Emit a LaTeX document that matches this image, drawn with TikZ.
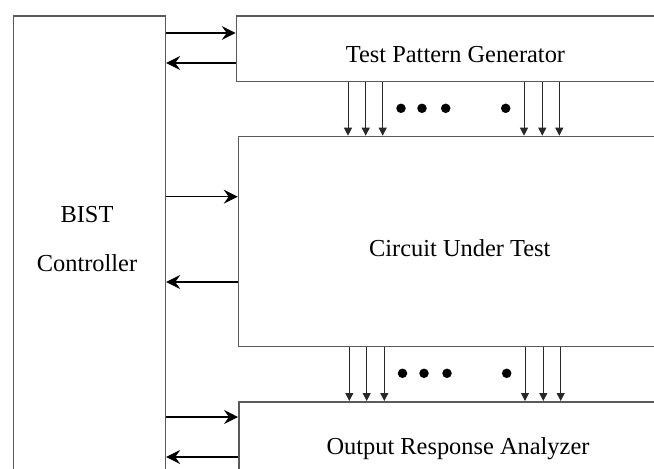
\documentclass[tikz,border=0pt]{standalone}
\usepackage{fontspec}
\setmainfont{Liberation Serif}
\usetikzlibrary{arrows.meta}

\definecolor{blockline}{RGB}{90,90,90}
\definecolor{busline}{RGB}{40,40,40}

\tikzset{
  block/.style={draw=blockline, line width=1.5pt, rectangle, inner sep=0pt, anchor=north west},
  lbl/.style={anchor=base, inner sep=0pt, font=\fontsize{24.4pt}{29pt}\selectfont},
  ctrl/.style={draw=black, line width=1.1pt, -{Stealth[length=14pt, width=14pt, inset=5pt]}},
  bus/.style={draw=busline, line width=1pt, -{Triangle[length=8pt, width=8pt]}},
  busdot/.style={fill=black, circle, inner sep=0pt, minimum size=9.5pt},
}

\begin{document}
\begin{tikzpicture}[x=1pt, y=-1pt]
  \useasboundingbox (0,0) rectangle (654,469);
  \clip (0,0) rectangle (654,469);

  % blocks (the wide ones run past the right edge, the controller past the bottom)
  \node[block, minimum width=152pt, minimum height=520pt] (bist) at (12.7,15) {};
  \node[block, minimum width=440pt, minimum height=65.7pt] (tpg) at (235.7,15) {};
  \node[block, minimum width=444pt, minimum height=210pt] (cut) at (237.7,135.7) {};
  \node[block, minimum width=440pt, minimum height=120pt] (ora) at (238,401) {};

  % block titles
  \node[lbl] (bistA) at (87,222.3) {BIST};
  \node[lbl] (bistB) at (87,271.7) {Controller};
  \node[lbl] (tpgT) at (455.5,62) {Test Pattern Generator};
  \node[lbl] (cutT) at (459.8,256) {Circuit Under Test};
  \node[lbl] (oraT) at (458,454.3) {Output Response Analyzer};

  % controller handshakes
  \draw[ctrl] (bist.east |- 0,33)    -- (tpg.west |- 0,33);
  \draw[ctrl] (tpg.west |- 0,63)     -- (bist.east |- 0,63);
  \draw[ctrl] (bist.east |- 0,196.7) -- (cut.west |- 0,196.7);
  \draw[ctrl] (cut.west |- 0,282)    -- (bist.east |- 0,282);
  \draw[ctrl] (bist.east |- 0,417)   -- (ora.west |- 0,417);
  \draw[ctrl] (ora.west |- 0,457)    -- (bist.east |- 0,457);

  % test pattern bus
  \foreach \x in {348,365.7,382.7,524,542.3,559.3}
    \draw[bus] (tpg.south -| \x,0) -- (cut.north -| \x,0);
  \foreach \x [count=\i] in {401,422,445.7,505.7}
    \node[busdot] (tdot\i) at (\x,108.3) {};

  % response bus
  \foreach \x in {349.3,366.7,384.3,525,543.3,560.7}
    \draw[bus] (cut.south -| \x,0) -- (ora.north -| \x,0);
  \foreach \x [count=\i] in {402.5,424,447,506.7}
    \node[busdot] (rdot\i) at (\x,373.3) {};
\end{tikzpicture}
\end{document}
